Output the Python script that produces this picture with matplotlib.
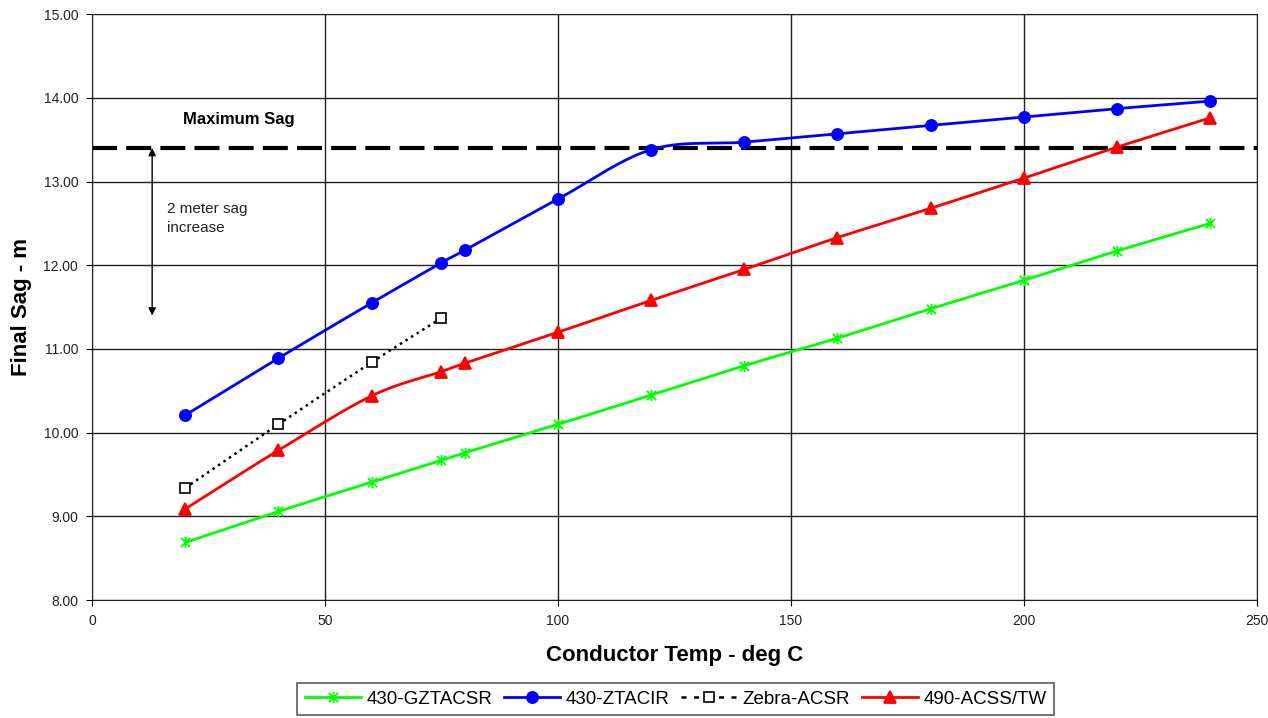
import os

os.environ.setdefault("MPLBACKEND", "Agg")

import matplotlib.pyplot as plt
import numpy as np
from matplotlib.path import Path

plt.rcParams["font.family"] = ["Liberation Sans", "DejaVu Sans"]

# conductor temperature (deg C) and final sag (m)
temps = [20, 40, 60, 75, 80, 100, 120, 140, 160, 180, 200, 220, 240]
sag_gztacsr = [8.69, 9.06, 9.41, 9.67, 9.76, 10.10, 10.45, 10.80, 11.13, 11.48, 11.82, 12.17, 12.50]
sag_ztacir = [10.21, 10.89, 11.55, 12.03, 12.18, 12.79, 13.38, 13.47, 13.57, 13.67, 13.77, 13.87, 13.96]
sag_acss = [9.09, 9.79, 10.44, 10.73, 10.83, 11.20, 11.58, 11.95, 12.33, 12.68, 13.04, 13.41, 13.76]
zebra_temps = [20, 40, 60, 75]
sag_zebra = [9.34, 10.10, 10.84, 11.37]

max_sag = 13.4
sag_increase_from = 11.4

# Excel-style star marker: an "x" with a vertical stroke
STAR = Path([(-1, -1), (1, 1), (-1, 1), (1, -1), (0, -1.2), (0, 1.2)],
            [Path.MOVETO, Path.LINETO] * 3)


def smooth(x, y, n=20):
    """Catmull-Rom curve through the points, like Excel's smoothed line."""
    x = np.asarray(x, float)
    y = np.asarray(y, float)
    px = np.concatenate([[2 * x[0] - x[1]], x, [2 * x[-1] - x[-2]]])
    py = np.concatenate([[2 * y[0] - y[1]], y, [2 * y[-1] - y[-2]]])
    t = np.linspace(0, 1, n)
    xs, ys = [], []
    for i in range(1, len(px) - 2):
        for p, out in ((px, xs), (py, ys)):
            p0, p1, p2, p3 = p[i - 1], p[i], p[i + 1], p[i + 2]
            out.extend(0.5 * (2 * p1 + (-p0 + p2) * t
                              + (2 * p0 - 5 * p1 + 4 * p2 - p3) * t ** 2
                              + (-p0 + 3 * p1 - 3 * p2 + p3) * t ** 3))
    return np.array(xs), np.array(ys)


fig = plt.figure(figsize=(12.68, 7.18), dpi=100)
ax = fig.add_axes([0.0726, 0.164, 0.9185, 0.8165])

series = [
    ("430-GZTACSR", temps, sag_gztacsr, "#00ff00", STAR, "-", 8),
    ("430-ZTACIR", temps, sag_ztacir, "#0000ff", "o", "-", 8),
    ("Zebra-ACSR", zebra_temps, sag_zebra, "black", "s", ":", 7),
    ("490-ACSS/TW", temps, sag_acss, "#ff0000", "^", "-", 8),
]

handles = []
for label, x, y, color, marker, ls, ms in series:
    sx, sy = smooth(x, y)
    lw = 2 if ls == "-" else 1.8
    ax.plot(sx, sy, color=color, lw=lw, ls=ls, zorder=3)
    if marker == "s":
        ax.plot(x, y, ls="none", marker="s", ms=ms, mfc="white", mec="black",
                mew=1.2, zorder=4)
        h, = ax.plot([], [], color="black", ls=(0, (2, 3)), lw=1.8,
                     marker="s", ms=ms, mfc="white", mec="black", mew=1.2)
    else:
        ax.plot(x, y, ls="none", marker=marker, ms=ms, color=color,
                mew=1.3, zorder=4)
        h, = ax.plot([], [], color=color, lw=lw, marker=marker, ms=ms, mew=1.3)
    h.set_label(label)
    handles.append(h)

ax.axhline(max_sag, color="black", lw=3, ls=(0, (6, 2.2)), zorder=2)
ax.text(19.5, 13.74, "Maximum Sag", fontsize=12, fontweight="bold",
        ha="left", va="center")
ax.annotate("", xy=(12.9, max_sag), xytext=(12.9, sag_increase_from),
            arrowprops=dict(arrowstyle="<|-|>", color="black", lw=1,
                            mutation_scale=11, shrinkA=0, shrinkB=0))
ax.text(16, 12.56, "2 meter sag\nincrease", fontsize=11, ha="left",
        va="center", linespacing=1.45, color="#222222")

ax.set_xlim(0, 250)
ax.set_ylim(8, 15)
ax.set_xticks(range(0, 251, 50))
ax.set_yticks(np.arange(8, 15.01, 1))
ax.set_yticklabels([f"{v:.2f}" for v in np.arange(8, 15.01, 1)])
ax.tick_params(labelsize=10, length=4, direction="out", pad=6,
               labelcolor="#222222")
ax.grid(True, color="#222222", lw=1)
ax.set_axisbelow(True)
for s in ax.spines.values():
    s.set_color("#222222")

ax.set_xlabel("Conductor Temp - deg C", fontsize=16, fontweight="bold",
              labelpad=12)
ax.set_ylabel("Final Sag - m", fontsize=16, fontweight="bold", labelpad=8)

leg = fig.legend(handles=handles, loc="lower center", ncol=4,
                 bbox_to_anchor=(0.533, 0.004), fontsize=13.5, frameon=True,
                 fancybox=False, edgecolor="#333333", handlelength=3,
                 handletextpad=0.3, columnspacing=0.6, borderpad=0.4,
                 borderaxespad=0)
leg.get_frame().set_linewidth(1.2)

fig.savefig("out.png", dpi=100)
plt.close(fig)
